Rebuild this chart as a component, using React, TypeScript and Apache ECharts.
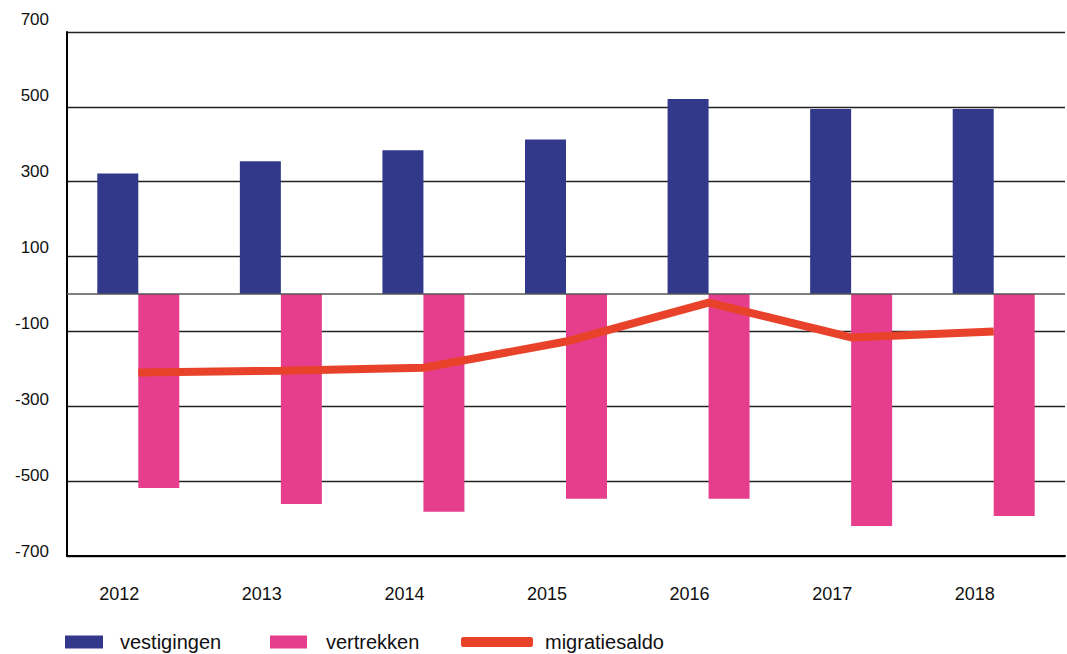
import React, { useEffect, useRef } from 'react';
import * as echarts from 'echarts';

const years = ['2012', '2013', '2014', '2015', '2016', '2017', '2018'];
const vestigingen = [322, 355, 384, 413, 521, 494, 494];
const vertrekken = [-518, -561, -582, -547, -547, -620, -593];
const migratiesaldo = [-210, -205, -197, -127, -23, -116, -100];
const yTickLabels = ['-700', '-500', '-300', '-100', '100', '300', '500', '700'];

const FONT = "'Liberation Sans', Arial, Helvetica, sans-serif";
const BLUE = '#32398b';
const PINK = '#e63e8d';
const RED = '#e8432a';

export default function App() {
  const ref = useRef<HTMLDivElement>(null);
  useEffect(() => {
    if (!ref.current) return;
    const chart = echarts.init(ref.current, null, { renderer: 'svg' });
    const legendText = { fontFamily: FONT, fontSize: 20, lineHeight: 20, color: '#111' };
    chart.setOption({
      animation: false,
      grid: [
        { left: 67, top: 32, width: 998, height: 524 },
        { left: 67, top: 19.5, width: 998, height: 531.5 },
      ],
      legend: [
        {
          data: ['vestigingen'], left: 65, top: 632, padding: 0, itemWidth: 38, itemHeight: 13, icon: 'rect',
          textStyle: { ...legendText, padding: [0, 0, 0, 12] },
        },
        {
          data: ['vertrekken'], left: 270, top: 632, padding: 0, itemWidth: 37, itemHeight: 13, icon: 'rect',
          textStyle: { ...legendText, padding: [0, 0, 0, 14] },
        },
        {
          data: ['migratiesaldo'], left: 461, top: 632, padding: 0, itemWidth: 72, itemHeight: 10, icon: 'roundRect',
          itemStyle: { color: RED },
          textStyle: { ...legendText, padding: [0, 0, 0, 7] },
        },
      ],
      xAxis: [
        {
          type: 'category', gridIndex: 0, data: years,
          axisLine: { show: true, onZero: false, lineStyle: { color: '#000', width: 2 } },
          axisTick: { show: false },
          axisLabel: { fontFamily: FONT, fontSize: 18, color: '#111', margin: 29, padding: [0, 38, 0, 0] },
          splitLine: { show: false },
        },
        { type: 'category', gridIndex: 1, data: years, show: false },
      ],
      yAxis: [
        { type: 'value', gridIndex: 0, position: 'left', min: -700, max: 700, show: false, splitLine: { show: false } },
        {
          type: 'category', gridIndex: 0, position: 'left', data: yTickLabels, boundaryGap: false,
          axisLine: { show: true, lineStyle: { color: '#000', width: 2 } },
          axisTick: { show: false },
          axisLabel: { show: false },
          splitLine: { show: true, lineStyle: { color: '#222', width: 1.3 } },
        },
        {
          type: 'category', gridIndex: 1, position: 'left', data: yTickLabels, boundaryGap: false,
          axisLine: { show: false }, axisTick: { show: false }, splitLine: { show: false },
          axisLabel: { fontFamily: FONT, fontSize: 17, color: '#111', margin: 18 },
        },
      ],
      series: [
        {
          name: 'vestigingen', type: 'bar', xAxisIndex: 0, yAxisIndex: 0, data: vestigingen,
          barWidth: 41, barGap: '0%', itemStyle: { color: BLUE },
          markLine: {
            silent: true, symbol: ['none', 'none'], label: { show: false },
            lineStyle: { color: '#555', width: 1.5, type: 'solid' },
            data: [{ yAxis: 0 }],
          },
        },
        {
          name: 'vertrekken', type: 'bar', xAxisIndex: 0, yAxisIndex: 0, data: vertrekken,
          barWidth: 41, barGap: '0%', itemStyle: { color: PINK },
        },
        {
          name: 'migratiesaldo', type: 'line', xAxisIndex: 0, yAxisIndex: 0, data: migratiesaldo,
          symbol: 'none', lineStyle: { color: RED, width: 8 }, itemStyle: { color: RED }, z: 5,
        },
      ],
    });
    return () => chart.dispose();
  }, []);
  return <div ref={ref} style={{ width: 1067, height: 654, position: 'absolute', left: 0, top: 0 }} />;
}
